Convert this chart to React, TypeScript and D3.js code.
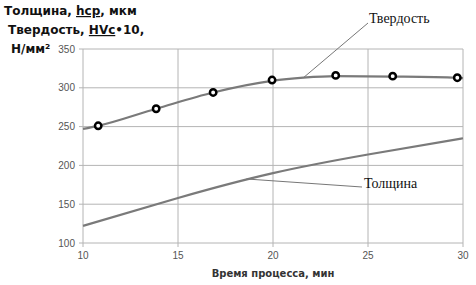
import React from "react";
import * as d3 from "d3";

const xTicks = [10, 15, 20, 25, 30];
const yTicks = [100, 150, 200, 250, 300, 350];

// Hardness measured points
const hardX = [10.8, 13.85, 16.85, 19.95, 23.3, 26.3, 29.7];
const hardY = [251, 273, 294, 310, 316, 315, 313];
// Hardness trend line
const hardLineX = [10, 10.8, 13.85, 16.85, 19.95, 21.6, 23.3, 26.3, 29.7, 30];
const hardLineY = [247, 251, 273, 294, 309, 313, 315, 314.5, 313, 312.5];
// Thickness line
const thickX = [10, 15, 20, 25, 30];
const thickY = [122, 158, 190, 214, 235];

const W = 476;
const H = 285;

export default function App() {
  const x = d3.scaleLinear().domain([10, 30]).range([83, 463]);
  const y = d3.scaleLinear().domain([100, 350]).range([243, 49]);
  const hardGen = d3
    .line<[number, number]>()
    .x((d) => x(d[0]))
    .y((d) => y(d[1]))
    .curve(d3.curveMonotoneX);
  const thickGen = d3
    .line<[number, number]>()
    .x((d) => x(d[0]))
    .y((d) => y(d[1]))
    .curve(d3.curveNatural);
  const hardLine = hardGen(hardLineX.map((v, i) => [v, hardLineY[i]]) as [number, number][]);
  const thickLine = thickGen(thickX.map((v, i) => [v, thickY[i]]) as [number, number][]);
  const grid = "#b4b4b4";
  const tickFont = "'Liberation Sans', Arial, sans-serif";
  const annX = 18.6;
  const annY = 182.5;
  return (
    <svg
      width={W}
      height={H}
      style={{ position: "absolute", left: 0, top: 0, background: "#fff" }}
    >
      {yTicks.map((t) => (
        <g key={"y" + t}>
          <line x1={79} x2={x(30)} y1={y(t)} y2={y(t)} stroke={grid} strokeWidth={1} />
          <text
            x={75}
            y={y(t)}
            dy="0.35em"
            textAnchor="end"
            fontFamily={tickFont}
            fontSize={10}
            fill="#555"
          >
            {t}
          </text>
        </g>
      ))}
      {xTicks.map((t) => (
        <g key={"x" + t}>
          <line x1={x(t)} x2={x(t)} y1={y(350)} y2={247} stroke={grid} strokeWidth={1} />
          <text
            x={x(t)}
            y={259}
            textAnchor="middle"
            fontFamily={tickFont}
            fontSize={10}
            fill="#555"
          >
            {t}
          </text>
        </g>
      ))}
      <path d={thickLine || ""} fill="none" stroke="#7a7a7a" strokeWidth={2.2} />
      <path d={hardLine || ""} fill="none" stroke="#7a7a7a" strokeWidth={2.2} />
      {hardX.map((v, i) => (
        <circle
          key={"p" + i}
          cx={x(v)}
          cy={y(hardY[i])}
          r={3.2}
          fill="#fff"
          stroke="#000"
          strokeWidth={2.5}
        />
      ))}
      {/* annotations */}
      <line x1={x(21.6)} y1={y(313)} x2={368} y2={23} stroke="#777" strokeWidth={1} />
      <text
        x={369}
        y={23}
        fontFamily="'Liberation Serif', 'Times New Roman', serif"
        fontSize={14}
        fill="#111"
      >
        Твердость
      </text>
      <line x1={x(annX)} y1={y(annY)} x2={362} y2={187} stroke="#777" strokeWidth={1} />
      <text
        x={364}
        y={188}
        fontFamily="'Liberation Serif', 'Times New Roman', serif"
        fontSize={14}
        fill="#111"
      >
        Толщина
      </text>
      {/* axis titles */}
      <text
        x={273}
        y={277}
        textAnchor="middle"
        fontFamily="'DejaVu Sans', sans-serif"
        fontWeight="bold"
        fontSize={10}
        fill="#333"
      >
        Время процесса, мин
      </text>
      <g fontFamily="'DejaVu Sans', sans-serif" fontWeight="bold" fontSize={12} fill="#111">
        <text x={4} y={15}>
          Толщина, <tspan textDecoration="underline">hcp</tspan>, мкм
        </text>
        <text x={8} y={34}>
          Твердость,  <tspan textDecoration="underline">HVc</tspan>•10,
        </text>
        <text x={11} y={53}>
          Н/мм²
        </text>
      </g>
    </svg>
  );
}
